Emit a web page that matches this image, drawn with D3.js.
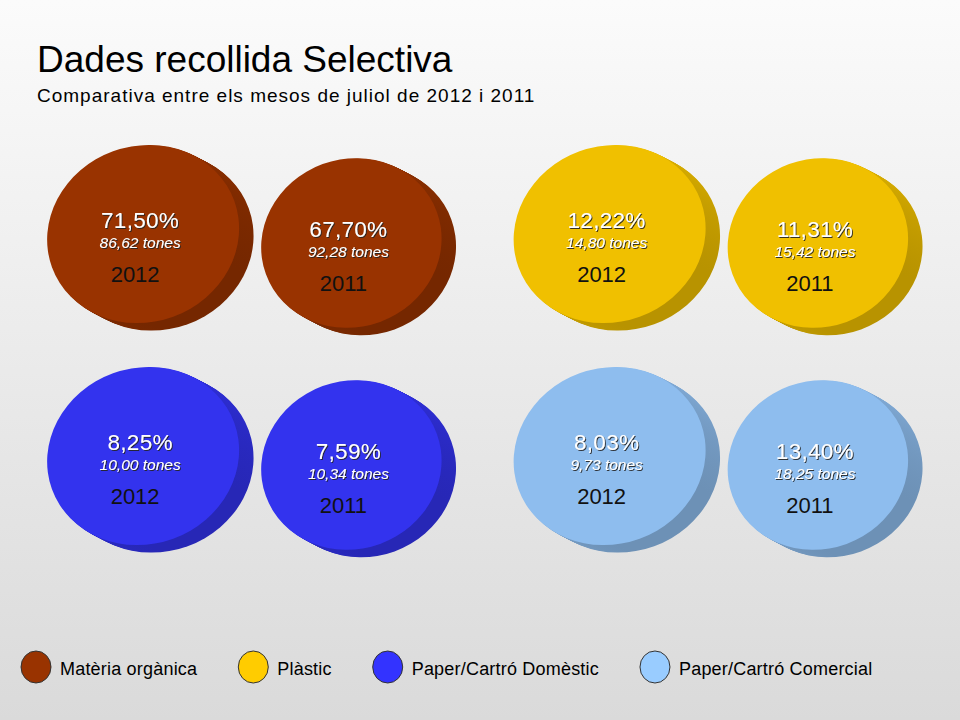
<!DOCTYPE html>
<html>
<head>
<meta charset="utf-8">
<script src="https://cdn.jsdelivr.net/npm/d3@7"></script>
<style>
  body { margin: 0; }
  svg { display: block; font-family: "Liberation Sans", Arial, sans-serif; }
</style>
</head>
<body>
<div id="chart"></div>
<script>
// data
var categories = ["Matèria orgànica", "Plàstic", "Paper/Cartró Domèstic", "Paper/Cartró Comercial"];
var years = ["2012", "2011"];
var pct2012 = [71.50, 12.22, 8.25, 8.03];
var pct2011 = [67.70, 11.31, 7.59, 13.40];
var tones2012 = [86.62, 14.80, 10.00, 9.73];
var tones2011 = [92.28, 15.42, 10.34, 18.25];
var faceColors = ["#993300", "#F0C000", "#3333EE", "#8EBDEE"];
var legendColors = ["#993300", "#FFCC00", "#3333FF", "#99CCFF"];

var width = 960, height = 720;

var ca = d3.formatLocale({decimal: ",", thousands: ".", grouping: [3], currency: ["", "€"]});
var f = ca.format(".2f");

var svg = d3.select("#chart").append("svg")
  .attr("width", width)
  .attr("height", height);

var defs = svg.append("defs");

// background
var bg = defs.append("linearGradient").attr("id", "bg")
  .attr("x1", 0).attr("y1", 0).attr("x2", 0).attr("y2", 1);
bg.append("stop").attr("offset", "0%").attr("stop-color", "#FBFBFB");
bg.append("stop").attr("offset", "100%").attr("stop-color", "#DADADA");
svg.append("rect").attr("width", width).attr("height", height).attr("fill", "url(#bg)");

// shadow for the white labels
var sh = defs.append("filter").attr("id", "sh")
  .attr("x", "-10%").attr("y", "-20%").attr("width", "130%").attr("height", "150%");
sh.append("feDropShadow").attr("dx", 1).attr("dy", 1).attr("stdDeviation", 0.6)
  .attr("flood-color", "#222").attr("flood-opacity", 0.9);

categories.forEach(function(c, i) {
  var g = defs.append("linearGradient").attr("id", "side" + i)
    .attr("x1", 0).attr("y1", 0).attr("x2", 0.3).attr("y2", 1);
  g.append("stop").attr("offset", "40%").attr("stop-color", d3.color(faceColors[i]).darker(0.3));
  g.append("stop").attr("offset", "100%").attr("stop-color", d3.color(faceColors[i]).darker(0.75));
});

// title
svg.append("text")
  .attr("x", 37).attr("y", 72)
  .style("font-size", "37px")
  .attr("fill", "#000")
  .text("Dades recollida Selectiva");

svg.append("text")
  .attr("x", 37).attr("y", 102)
  .style("font-size", "19px")
  .style("letter-spacing", "1px")
  .attr("fill", "#000")
  .text("Comparativa entre els mesos de juliol de 2012 i 2011");

// build disc table
var discs = [];
categories.forEach(function(c, i) {
  discs.push({cat: i, year: "2012", pct: pct2012[i], tones: tones2012[i]});
  discs.push({cat: i, year: "2011", pct: pct2011[i], tones: tones2011[i]});
});

// layout scales
var col = d3.scaleBand().domain([0, 1]).range([14, 947]);
var row = d3.scaleBand().domain([0, 1]).range([127, 571]);
var inner = d3.scalePoint().domain(years).range([0, col.bandwidth()]).padding(0.62);
var rx = d3.scaleOrdinal().domain(years).range([97, 91]);
var ry = d3.scaleOrdinal().domain(years).range([88, 84]);
var dyYear = d3.scaleOrdinal().domain(years).range([-4, 5]);

var depth = {x: 11, y: 12};

var disc = svg.selectAll(".disc")
  .data(discs)
  .enter().append("g")
    .attr("class", "disc")
    .attr("transform", function(d) {
      var cx = col(d.cat % 2) + inner(d.year);
      var cy = row(Math.floor(d.cat / 2)) + row.bandwidth() / 2 + dyYear(d.year);
      return "translate(" + cx + "," + cy + ")";
    });

// side of the disc: stacked ellipses
var steps = d3.range(depth.y, 0, -1);
disc.each(function(d) {
  var el = d3.select(this);
  steps.forEach(function(s) {
    el.append("ellipse")
      .attr("cx", s * depth.x / depth.y)
      .attr("cy", s)
      .attr("rx", rx(d.year))
      .attr("ry", ry(d.year))
      .attr("transform", "rotate(-20)")
      .attr("fill", "url(#side" + d.cat + ")");
  });
});

// face
disc.append("ellipse")
  .attr("rx", function(d) { return rx(d.year); })
  .attr("ry", function(d) { return ry(d.year); })
  .attr("transform", "rotate(-20)")
  .attr("fill", function(d) { return faceColors[d.cat]; });

disc.append("text")
  .attr("x", -3).attr("y", -6)
  .attr("text-anchor", "middle")
  .attr("fill", "#fff")
  .attr("filter", "url(#sh)")
  .style("font-size", "22.5px")
  .style("letter-spacing", "0.3px")
  .text(function(d) { return f(d.pct) + "%"; });

disc.append("text")
  .attr("x", -3).attr("y", 14)
  .attr("text-anchor", "middle")
  .attr("fill", "#fff")
  .attr("filter", "url(#sh)")
  .style("font-size", "15.5px")
  .style("font-style", "italic")
  .text(function(d) { return f(d.tones) + " tones"; });

disc.append("text")
  .attr("x", -8).attr("y", 48)
  .attr("text-anchor", "middle")
  .attr("fill", "#111")
  .style("font-size", "22px")
  .text(function(d) { return d.year; });

// legend
var lx = 36;
categories.forEach(function(c, i) {
  var lg = svg.append("g").attr("transform", "translate(" + lx + ",667)");
  lg.append("ellipse")
    .attr("rx", 15).attr("ry", 16)
    .attr("fill", legendColors[i])
    .attr("stroke", "#333")
    .attr("stroke-width", 1);
  var t = lg.append("text")
    .attr("x", 24).attr("y", 8)
    .style("font-size", "18px")
    .style("letter-spacing", "0.2px")
    .attr("fill", "#000")
    .text(c);
  lx += 24 + t.node().getComputedTextLength() + 56;
});
</script>
</body>
</html>
